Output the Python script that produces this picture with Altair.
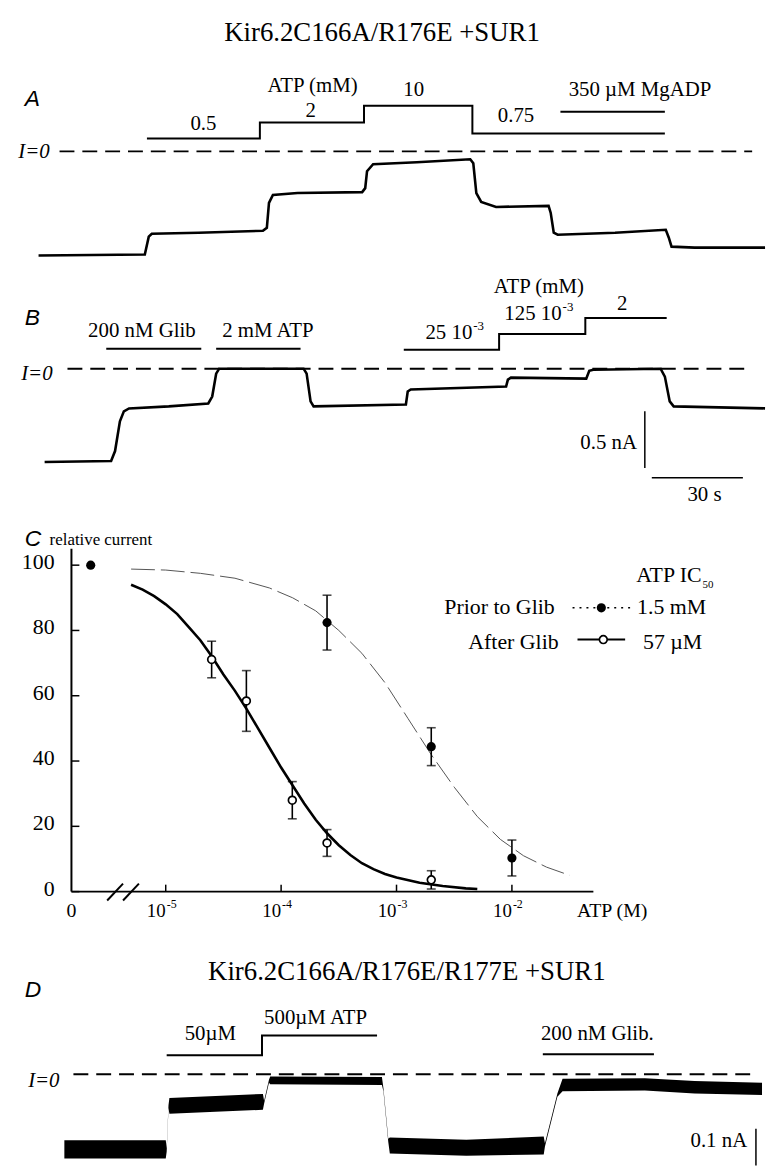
import altair as alt
import pandas as pd
import numpy as np

SERIF = "Liberation Serif"
SANS = "Liberation Sans"

W = 771
H_A, H_B, H_C, H_D = 270, 250, 410, 240

# ---------------- data ----------------
# Panel A: current trace (time s, current nA)
a_time = [12.7, 47.7, 49.0, 50.0, 65.4, 86.6, 87.9, 88.6, 89.9, 98.0,
          119.3, 120.3, 120.9, 122.9, 137.3, 154.9, 155.9, 156.9, 158.5, 163.4,
          180.7, 181.4, 182.4, 183.7, 202.6, 219.3, 220.3, 221.2, 228.8, 252.0]
a_curr = [-0.921, -0.912, -0.754, -0.728, -0.719, -0.702, -0.675, -0.456, -0.386, -0.368,
          -0.360, -0.325, -0.175, -0.114, -0.096, -0.070, -0.105, -0.368, -0.447, -0.491,
          -0.482, -0.544, -0.719, -0.737, -0.719, -0.693, -0.763, -0.842, -0.851, -0.851]
# Panel A: solution changes (s)
a_atp_times = [48.4, 85.6, 119.9, 155.6, 219.0]
a_adp_times = [184.6, 219.0]

# Panel B: current trace
b_time = [14.7, 36.6, 37.9, 39.5, 40.8, 42.5, 55.6, 68.6, 69.9, 71.2,
          72.2, 100.0, 101.0, 102.3, 103.3, 133.7, 134.3, 135.3, 166.7, 167.3,
          168.3, 193.1, 194.1, 195.4, 217.6, 219.0, 220.6, 221.9, 252.0]
b_curr = [-0.825, -0.816, -0.728, -0.465, -0.377, -0.351, -0.333, -0.307, -0.246, -0.044,
          0.0, 0.0, -0.044, -0.289, -0.333, -0.316, -0.202, -0.184, -0.158, -0.096,
          -0.079, -0.088, -0.018, -0.009, 0.0, -0.070, -0.289, -0.333, -0.351]
b_glib_times = [35.0, 66.3]
b_atp2_times = [71.2, 99.0]
b_atp_step_times = [133.0, 164.4, 192.8, 219.6]

# Panel C: relative current vs [ATP]
after_conc = [2.5e-5, 5e-5, 1.25e-4, 2.5e-4, 2e-3]
after_rel = [71.1, 58.4, 28.0, 14.9, 3.6]
after_sem = [5.6, 9.3, 5.7, 4.1, 2.8]
prior_conc = [2.5e-4, 2e-3, 1e-2]
prior_rel = [82.4, 44.4, 10.3]
prior_sem = [8.4, 5.8, 5.5]
control_rel = [100.0]
fit_after_log10c = [-5.3, -5.2, -5.1, -5.0, -4.9, -4.8, -4.7, -4.6, -4.5, -4.4,
                    -4.3, -4.2, -4.1, -4.0, -3.9, -3.8, -3.7, -3.6, -3.5, -3.4,
                    -3.3, -3.2, -3.1, -3.0, -2.8, -2.6, -2.4, -2.3]
fit_after_rel = [94, 92.5, 90.5, 88, 85, 81, 77, 72, 66.5, 61.5,
                 56, 50, 44, 38, 32.5, 27, 22, 17.8, 14.2, 11.2,
                 8.7, 6.9, 5.4, 4.3, 2.7, 1.7, 1.0, 0.8]
fit_prior_log10c = [-5.3, -5.0, -4.7, -4.4, -4.1, -3.9, -3.7, -3.5, -3.3, -3.1,
                    -2.9, -2.7, -2.5, -2.3, -2.1, -1.9, -1.7, -1.5]
fit_prior_rel = [98.8, 98.5, 97.5, 96, 93, 90, 86, 80, 73, 64,
                 53, 42, 32, 23, 16, 11, 7.5, 5]
y_ticks = [0, 20, 40, 60, 80, 100]
x_tick_exp = [-5, -4, -3, -2]

# Panel D: current envelope of the noisy trace (time s, lower / upper nA)
d_time = [21.2, 54.6, 54.9, 55.5, 55.8, 86.6, 87.0, 88.6, 89.0, 125.8,
          126.3, 127.9, 128.4, 153.6, 179.1, 179.5, 183.6, 185.3, 212.4, 228.8, 251.0]
d_low = [-0.149, -0.149, -0.137, -0.060, -0.070, -0.063, -0.052, -0.015, -0.018, -0.019,
         -0.030, -0.120, -0.140, -0.144, -0.142, -0.128, -0.040, -0.030, -0.029, -0.034, -0.037]
d_high = [-0.117, -0.117, -0.131, -0.055, -0.042, -0.035, -0.047, -0.010, -0.004, -0.005,
          -0.025, -0.114, -0.112, -0.116, -0.110, -0.122, -0.034, -0.008, -0.007, -0.012, -0.015]
d_atp_times = [54.9, 86.3, 124.2]
d_glib_times = [178.8, 215.4]

# ---------------- scales ----------------
def tscale():
    return alt.Scale(domain=[0, 252], nice=False, zero=False)

YA = [-1.070, 1.298]
YB = [-1.342, 0.851]
YD = [-0.1614, 0.2596]
XC = [-6.436, 0.1935]
YC = [-10.94, 113.68]


def sc(dom):
    return alt.Scale(domain=dom, nice=False, zero=False)


def texts(rows, size, align="center", style="normal", font=SERIF, baseline="alphabetic"):
    df = pd.DataFrame(rows, columns=["label", "px", "py"])
    return alt.Chart(df).mark_text(
        font=font, fontSize=size, align=align, baseline=baseline,
        fontStyle=style, color="black"
    ).encode(
        x=alt.X("px:Q", scale=None, axis=None),
        y=alt.Y("py:Q", scale=None, axis=None),
        text="label:N",
    )


def trace_line(t, i, ydom):
    df = pd.DataFrame({"t": t, "i": i})
    return alt.Chart(df).mark_line(color="black", strokeWidth=2.6).encode(
        x=alt.X("t:Q", scale=tscale(), axis=None),
        y=alt.Y("i:Q", scale=sc(ydom), axis=None),
    )


def zero_line(ydom, x0, x1):
    return alt.Chart(pd.DataFrame({"i": [0.0]})).mark_rule(
        color="black", strokeWidth=2, strokeDash=[15, 8]
    ).encode(x=alt.value(x0), x2=alt.value(x1),
             y=alt.Y("i:Q", scale=sc(ydom), axis=None))


def step_bar(times, levels):
    df = pd.DataFrame({"t": times, "lvl": levels})
    return alt.Chart(df).mark_line(color="black", strokeWidth=2,
                                   interpolate="step-after").encode(
        x=alt.X("t:Q", scale=tscale(), axis=None),
        y=alt.Y("lvl:Q", scale=None, axis=None),
    )


def flat_bar(times, level):
    df = pd.DataFrame({"t0": [times[0]], "t1": [times[1]], "lvl": [level]})
    return alt.Chart(df).mark_rule(color="black", strokeWidth=2).encode(
        x=alt.X("t0:Q", scale=tscale(), axis=None), x2="t1:Q",
        y=alt.Y("lvl:Q", scale=None, axis=None),
    )

# ---------------- Panel A ----------------
panel_a = alt.layer(
    trace_line(a_time, a_curr, YA),
    zero_line(YA, 60, 758),
    step_bar(a_atp_times, [135, 119, 102, 130, 130]),
    flat_bar(a_adp_times, 108),
    texts([("Kir6.2C166A/R176E +SUR1", 385, 37)], 27),
    texts([("A", 25, 102)], 23, align="left", style="italic", font=SANS),
    texts([("I=0", 50, 155)], 21, align="right", style="italic"),
    texts([("ATP (mM)", 315, 88), ("0.5", 205, 126), ("2", 313, 113),
           ("10", 417, 92), ("0.75", 520, 118), ("350 µM MgADP", 645, 92)], 21),
).properties(width=W, height=H_A)

# ---------------- Panel B ----------------
sb_v = pd.DataFrame({"t": [212.4], "i0": [-0.877], "i1": [-0.377]})
sb_h = pd.DataFrame({"t0": [214.7], "t1": [244.7], "i": [-0.965]})
panel_b = alt.layer(
    trace_line(b_time, b_curr, YB),
    zero_line(YB, 68, 757),
    flat_bar(b_glib_times, 77),
    flat_bar(b_atp2_times, 77),
    step_bar(b_atp_step_times, [78, 62, 46, 46]),
    alt.Chart(sb_v).mark_rule(color="black", strokeWidth=1.5).encode(
        x=alt.X("t:Q", scale=tscale(), axis=None),
        y=alt.Y("i0:Q", scale=sc(YB), axis=None), y2="i1:Q"),
    alt.Chart(sb_h).mark_rule(color="black", strokeWidth=1.5).encode(
        x=alt.X("t0:Q", scale=tscale(), axis=None), x2="t1:Q",
        y=alt.Y("i:Q", scale=sc(YB), axis=None)),
    texts([("B", 25, 53)], 23, align="left", style="italic", font=SANS),
    texts([("I=0", 53, 108)], 21, align="right", style="italic"),
    texts([("200 nM Glib", 143, 65), ("2 mM ATP", 270, 65), ("ATP (mM)", 543, 21),
           ("2", 627, 38), ("30 s", 710, 230)], 21),
    texts([("0.5 nA", 642, 178), ("125 10", 566, 48), ("25 10", 476, 67)], 21, align="right"),
    texts([("-3", 567, 39), ("-3", 477, 58)], 13, align="left"),
).properties(width=W, height=H_B)

# ---------------- Panel C ----------------
XS = lambda: sc(XC)
YS = lambda: sc(YC)

after_df = pd.DataFrame({"lx": np.log10(after_conc), "rel": after_rel,
                         "lo": np.array(after_rel) - np.array(after_sem),
                         "hi": np.array(after_rel) + np.array(after_sem)})
prior_df = pd.DataFrame({"lx": np.log10(prior_conc), "rel": prior_rel,
                         "lo": np.array(prior_rel) - np.array(prior_sem),
                         "hi": np.array(prior_rel) + np.array(prior_sem)})
control_df = pd.DataFrame({"lx": [-5.65], "rel": control_rel})
fit_after_df = pd.DataFrame({"lx": fit_after_log10c, "rel": fit_after_rel})
fit_prior_df = pd.DataFrame({"lx": fit_prior_log10c, "rel": fit_prior_rel})
yt_df = pd.DataFrame({"v": y_ticks, "lab": [str(v) for v in y_ticks]})
xt_df = pd.DataFrame({"e": x_tick_exp, "base": ["10"] * len(x_tick_exp),
                      "sup": [str(e) for e in x_tick_exp]})


def err_layers(df):
    bars = alt.Chart(df).mark_rule(color="black", strokeWidth=1.6).encode(
        x=alt.X("lx:Q", scale=XS(), axis=None),
        y=alt.Y("lo:Q", scale=YS(), axis=None), y2="hi:Q")
    cap_lo = alt.Chart(df).mark_tick(color="black", orient="horizontal", size=9,
                                     thickness=1.6).encode(
        x=alt.X("lx:Q", scale=XS(), axis=None),
        y=alt.Y("lo:Q", scale=YS(), axis=None))
    cap_hi = alt.Chart(df).mark_tick(color="black", orient="horizontal", size=9,
                                     thickness=1.6).encode(
        x=alt.X("lx:Q", scale=XS(), axis=None),
        y=alt.Y("hi:Q", scale=YS(), axis=None))
    return [bars, cap_lo, cap_hi]


axis_y = alt.Chart(pd.DataFrame({"a": [0], "b": [105]})).mark_rule(
    color="black", strokeWidth=2).encode(
    x=alt.value(72), y=alt.Y("a:Q", scale=YS(), axis=None), y2="b:Q")
axis_x = alt.Chart(pd.DataFrame({"a": [0]})).mark_rule(
    color="black", strokeWidth=2).encode(
    x=alt.value(72), x2=alt.value(598), y=alt.Y("a:Q", scale=YS(), axis=None))
yticks = alt.Chart(yt_df).mark_rule(color="black", strokeWidth=1.5).encode(
    x=alt.value(72), x2=alt.value(80), y=alt.Y("v:Q", scale=YS(), axis=None))
ylabels = alt.Chart(yt_df).mark_text(font=SERIF, fontSize=22, align="right",
                                     baseline="middle", dy=-3, color="black").encode(
    x=alt.value(55), y=alt.Y("v:Q", scale=YS(), axis=None), text="lab:N")
xticks = alt.Chart(xt_df).mark_rule(color="black", strokeWidth=1.5).encode(
    x=alt.X("e:Q", scale=XS(), axis=None), y=alt.value(374), y2=alt.value(367))
xlabels = alt.Chart(xt_df).mark_text(font=SERIF, fontSize=19, align="right",
                                     baseline="alphabetic", color="black").encode(
    x=alt.X("e:Q", scale=XS(), axis=None), y=alt.value(400), text="base:N")
xsup = alt.Chart(xt_df).mark_text(font=SERIF, fontSize=12, align="left",
                                  baseline="alphabetic", dx=1, color="black").encode(
    x=alt.X("e:Q", scale=XS(), axis=None), y=alt.value(391), text="sup:N")

brk1 = alt.Chart(pd.DataFrame({"k": [0]})).mark_rule(color="black", strokeWidth=2).encode(
    x=alt.value(108), x2=alt.value(124), y=alt.value(383), y2=alt.value(366))
brk2 = alt.Chart(pd.DataFrame({"k": [0]})).mark_rule(color="black", strokeWidth=2).encode(
    x=alt.value(124), x2=alt.value(140), y=alt.value(383), y2=alt.value(366))

fit_prior = alt.Chart(fit_prior_df).mark_line(color="#555555", strokeWidth=1,
                                               strokeDash=[24, 6]).encode(
    x=alt.X("lx:Q", scale=XS(), axis=None), y=alt.Y("rel:Q", scale=YS(), axis=None))
fit_after = alt.Chart(fit_after_df).mark_line(color="black", strokeWidth=2.6).encode(
    x=alt.X("lx:Q", scale=XS(), axis=None), y=alt.Y("rel:Q", scale=YS(), axis=None))

pts_prior = alt.Chart(pd.concat([prior_df, control_df])).mark_point(
    shape="circle", filled=True, color="black", size=85, opacity=1).encode(
    x=alt.X("lx:Q", scale=XS(), axis=None), y=alt.Y("rel:Q", scale=YS(), axis=None))
pts_after = alt.Chart(after_df).mark_point(
    shape="circle", filled=True, fill="white", stroke="black", strokeWidth=1.7,
    size=62, opacity=1).encode(
    x=alt.X("lx:Q", scale=XS(), axis=None), y=alt.Y("rel:Q", scale=YS(), axis=None))

leg_dot = alt.Chart(pd.DataFrame({"k": [0]})).mark_rule(
    color="black", strokeWidth=1.5, strokeDash=[2, 5]).encode(
    x=alt.value(577), x2=alt.value(636), y=alt.value(88))
leg_solid = alt.Chart(pd.DataFrame({"k": [0]})).mark_rule(
    color="black", strokeWidth=2).encode(
    x=alt.value(582), x2=alt.value(630), y=alt.value(120))
leg_fill = alt.Chart(pd.DataFrame({"k": [0]})).mark_point(
    shape="circle", filled=True, color="black", size=85, opacity=1).encode(
    x=alt.value(606), y=alt.value(88))
leg_open = alt.Chart(pd.DataFrame({"k": [0]})).mark_point(
    shape="circle", filled=True, fill="white", stroke="black", strokeWidth=1.7,
    size=62, opacity=1).encode(x=alt.value(608), y=alt.value(120))

panel_c = alt.layer(
    fit_prior, fit_after,
    *err_layers(after_df), *err_layers(prior_df),
    pts_prior, pts_after,
    axis_y, axis_x, yticks, ylabels, xticks, xlabels, xsup, brk1, brk2,
    leg_dot, leg_solid, leg_fill, leg_open,
    texts([("C", 25, 26)], 23, align="left", style="italic", font=SANS),
    texts([("relative current", 50, 25)], 17, align="left"),
    texts([("0", 72, 400), ("ATP (M)", 617, 400)], 20),
    texts([("ATP IC", 707, 62), ("Prior to Glib", 559, 94), ("After Glib", 563, 130)],
          22, align="right"),
    texts([("1.5 mM", 642, 94), ("57 µM", 648, 130)], 22, align="left"),
    texts([("50", 708, 68)], 11, align="left"),
).properties(width=W, height=H_C)

# ---------------- Panel D ----------------
d_df = pd.DataFrame({"t": d_time, "lo": d_low, "hi": d_high})
sb_d = pd.DataFrame({"t": [249.0], "i0": [-0.1965], "i1": [-0.0965]})
panel_d = alt.layer(
    alt.Chart(d_df).mark_area(color="black", opacity=1).encode(
        x=alt.X("t:Q", scale=tscale(), axis=None),
        y=alt.Y("lo:Q", scale=sc(YD), axis=None), y2="hi:Q"),
    zero_line(YD, 74, 763),
    step_bar(d_atp_times, [129, 109, 109]),
    flat_bar(d_glib_times, 128),
    alt.Chart(sb_d).mark_rule(color="black", strokeWidth=1.5, clip=True).encode(
        x=alt.X("t:Q", scale=tscale(), axis=None),
        y=alt.Y("i0:Q", scale=sc(YD), axis=None), y2="i1:Q"),
    texts([("Kir6.2C166A/R176E/R177E +SUR1", 410, 53)], 27),
    texts([("D", 25, 70)], 23, align="left", style="italic", font=SANS),
    texts([("I=0", 60, 161)], 21, align="right", style="italic"),
    texts([("50µM", 212, 114), ("500µM ATP", 318, 97), ("200 nM Glib.", 602, 114)], 21),
    texts([("0.1 nA", 753, 221)], 21, align="right"),
).properties(width=W, height=H_D)

chart = alt.vconcat(panel_a, panel_b, panel_c, panel_d, spacing=0, bounds="flush").properties(
    padding=0, background="white"
).configure_view(stroke=None)

chart.save("out.html", embed_options={"renderer": "svg", "actions": False})
